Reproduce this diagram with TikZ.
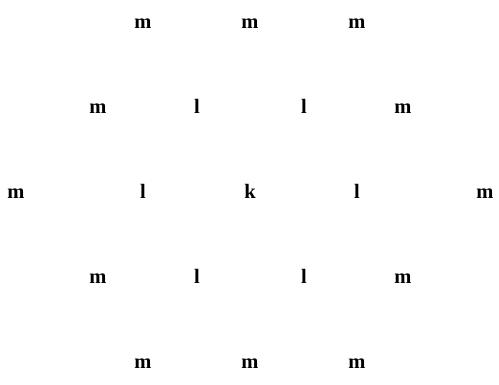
\documentclass[tikz,border=0pt]{standalone}
\usepackage{fontspec}
\setmainfont{Liberation Serif}
\begin{document}
\begin{tikzpicture}[x=1pt,y=1pt,lab/.style={font=\bfseries\fontsize{20.5}{24}\selectfont,inner sep=0pt,anchor=base}]
\useasboundingbox (0,0) rectangle (499,385);
% row 1
\node[lab] (a1) at (143,356) {m};
\node[lab] (a2) at (250,356) {m};
\node[lab] (a3) at (357,356) {m};
% row 2
\node[lab] (b1) at (98,271) {m};
\node[lab] (b2) at (197,271) {l};
\node[lab] (b3) at (304,271) {l};
\node[lab] (b4) at (403,271) {m};
% row 3
\node[lab] (c1) at (16,186) {m};
\node[lab] (c2) at (143,186) {l};
\node[lab] (c3) at (250,186) {k};
\node[lab] (c4) at (357,186) {l};
\node[lab] (c5) at (485,186) {m};
% row 4
\node[lab] (d1) at (98,101) {m};
\node[lab] (d2) at (197,101) {l};
\node[lab] (d3) at (304,101) {l};
\node[lab] (d4) at (403,101) {m};
% row 5
\node[lab] (e1) at (143,16) {m};
\node[lab] (e2) at (250,16) {m};
\node[lab] (e3) at (357,16) {m};
\end{tikzpicture}
\end{document}
